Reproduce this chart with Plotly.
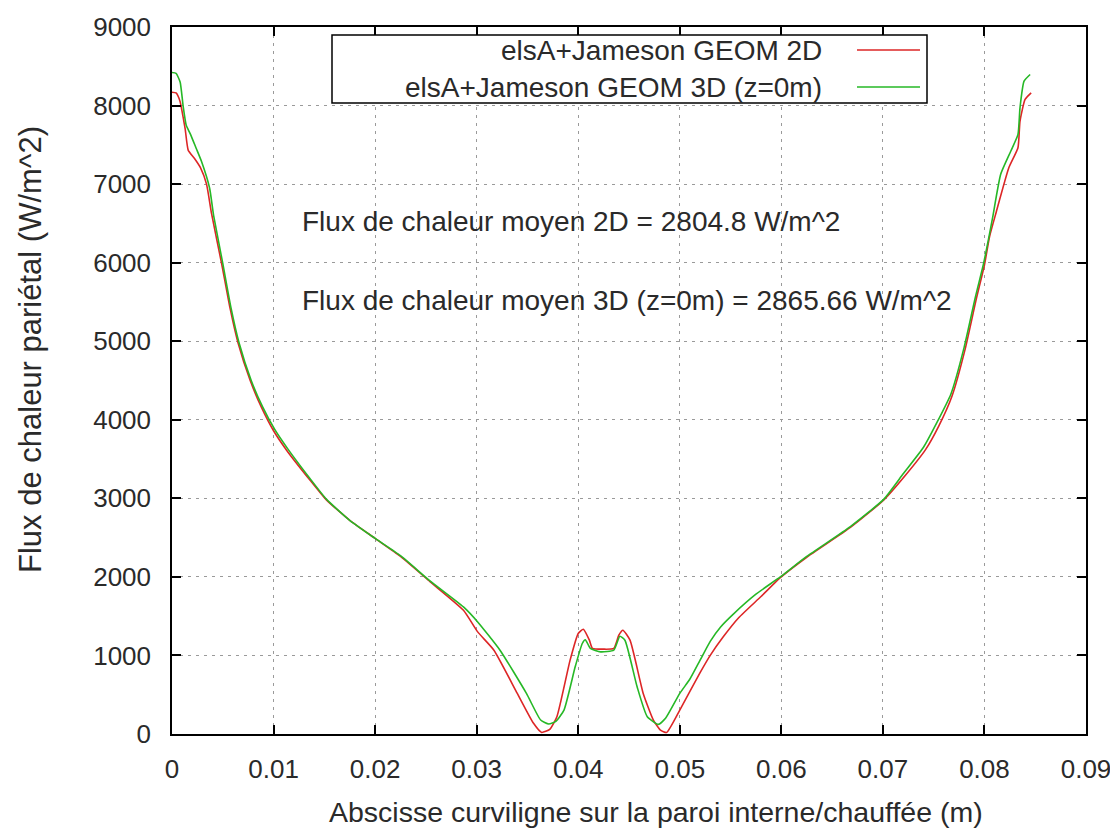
import plotly.graph_objects as go

# ---- data ----
x_2d = [0.0000, 0.0004, 0.0008, 0.0011, 0.0013, 0.0016, 0.0022, 0.0028, 0.0034, 0.0039,
        0.0049, 0.0057, 0.0065, 0.0077, 0.0088, 0.0100, 0.0113, 0.0136, 0.0152, 0.0175,
        0.0200, 0.0225, 0.0254, 0.0287, 0.0301, 0.0317, 0.0340, 0.0356, 0.0364, 0.0372,
        0.0379, 0.0392, 0.0400, 0.0405, 0.0411, 0.0414, 0.0425, 0.0435, 0.0440, 0.0444,
        0.0451, 0.0464, 0.0474, 0.0481, 0.0487, 0.0500, 0.0520, 0.0530, 0.0543, 0.0558,
        0.0580, 0.0599, 0.0625, 0.0668, 0.0701, 0.0722, 0.0742, 0.0755, 0.0768, 0.0781,
        0.0792, 0.0800, 0.0805, 0.0811, 0.0824, 0.0833, 0.0835, 0.0840, 0.0846]
y_2d = [8170, 8160, 8050, 7850, 7700, 7430, 7330, 7210, 7000, 6620,
        5980, 5430, 4980, 4500, 4160, 3860, 3610, 3230, 2980, 2720,
        2490, 2260, 1940, 1575, 1300, 1067, 517, 136, 20, 60,
        220, 940, 1280, 1334, 1194, 1090, 1080, 1089, 1258, 1321,
        1194, 517, 178, 50, 20, 305, 780, 1000, 1240, 1480,
        1750, 1990, 2250, 2630, 2980, 3290, 3620, 3920, 4300, 4900,
        5540, 5970, 6330, 6616, 7208, 7463, 7800, 8078, 8161]

x_3d = [0.0000, 0.0004, 0.0008, 0.0011, 0.0014, 0.0018, 0.0024, 0.0029, 0.0037, 0.0041,
        0.0050, 0.0058, 0.0066, 0.0078, 0.0089, 0.0101, 0.0114, 0.0136, 0.0152, 0.0175,
        0.0200, 0.0225, 0.0254, 0.0287, 0.0301, 0.0323, 0.0349, 0.0363, 0.0371, 0.0378,
        0.0386, 0.0397, 0.0404, 0.0407, 0.0412, 0.0422, 0.0435, 0.0441, 0.0446, 0.0458,
        0.0468, 0.0479, 0.0486, 0.0500, 0.0510, 0.0520, 0.0530, 0.0540, 0.0553, 0.0575,
        0.0599, 0.0625, 0.0668, 0.0701, 0.0720, 0.0740, 0.0753, 0.0767, 0.0780, 0.0791,
        0.0799, 0.0804, 0.0808, 0.0816, 0.0826, 0.0833, 0.0835, 0.0839, 0.0845]
y_3d = [8420, 8410, 8300, 7990, 7750, 7640, 7450, 7290, 6950, 6600,
        5990, 5430, 4980, 4500, 4170, 3880, 3630, 3250, 2990, 2720,
        2490, 2270, 1950, 1618, 1427, 1067, 517, 178, 127, 160,
        305, 855, 1152, 1200, 1089, 1046, 1067, 1245, 1194, 601,
        220, 123, 200, 517, 700, 940, 1180, 1360, 1530, 1780,
        2000, 2260, 2640, 2990, 3312, 3650, 3960, 4329, 4922, 5557,
        5980, 6300, 6570, 7125, 7421, 7632, 7971, 8310, 8395]

series_names = ["elsA+Jameson GEOM 2D", "elsA+Jameson GEOM 3D (z=0m)"]
series_colors = ["#dd2626", "#26b826"]
x_ticks = [0, 0.01, 0.02, 0.03, 0.04, 0.05, 0.06, 0.07, 0.08, 0.09]
x_ticklabels = ["0", "0.01", "0.02", "0.03", "0.04", "0.05", "0.06", "0.07", "0.08", "0.09"]
y_ticks = [0, 1000, 2000, 3000, 4000, 5000, 6000, 7000, 8000, 9000]
notes = ["Flux de chaleur moyen 2D = 2804.8 W/m^2",
         "Flux de chaleur moyen 3D (z=0m) = 2865.66 W/m^2"]
x_title = "Abscisse curviligne sur la paroi interne/chauffée (m)"
y_title = "Flux de chaleur pariétal (W/m^2)"

FONT = "Liberation Sans, Arial, sans-serif"
TXT = "#2a2a2a"

# page has an 8px body margin; work in page pixels and shift into figure pixels
OFF = 8
W, H = 1118 - OFF, 837 - OFF
L, R, T, B = 172 - OFF, 1086 - OFF, 27 - OFF, 734 - OFF


def px(xp):
    return (xp - OFF - L) / (R - L)


def py(yp):
    return (B - (yp - OFF)) / (B - T)


fig = go.Figure()
for xs, ys, name, col in [(x_2d, y_2d, series_names[0], series_colors[0]),
                          (x_3d, y_3d, series_names[1], series_colors[1])]:
    fig.add_trace(go.Scatter(x=xs, y=ys, mode="lines", name=name, showlegend=False,
                             line=dict(color=col, width=1.6, shape="spline", smoothing=0.5)))

axis_common = dict(showline=True, linecolor="black", linewidth=1.5, mirror="allticks",
                   ticks="inside", ticklen=9, tickwidth=1.5, tickcolor="black",
                   showgrid=True, gridcolor="#9a9a9a", gridwidth=1, griddash="3px,5px",
                   zeroline=False, automargin=False,
                   tickfont=dict(family=FONT, size=26, color=TXT))

fig.update_xaxes(range=[0, 0.09], tickvals=x_ticks, ticktext=x_ticklabels,
                 ticklabelstandoff=11, **axis_common)
fig.update_yaxes(range=[0, 9000], tickvals=y_ticks, ticklabelstandoff=14, **axis_common)

shapes = [
    dict(type="rect", xref="paper", yref="paper", x0=px(332), x1=px(927), y0=py(103), y1=py(35),
         line=dict(color="black", width=1.5), fillcolor="white", layer="above"),
    dict(type="line", xref="paper", yref="paper", x0=px(857), x1=px(920), y0=py(50), y1=py(50),
         line=dict(color=series_colors[0], width=1.6), layer="above"),
    dict(type="line", xref="paper", yref="paper", x0=px(857), x1=px(920), y0=py(87), y1=py(87),
         line=dict(color=series_colors[1], width=1.6), layer="above"),
]

annotations = [
    dict(xref="paper", yref="paper", x=px(824), y=py(50), text=series_names[0], showarrow=False,
         xanchor="right", yanchor="middle", font=dict(family=FONT, size=28, color=TXT)),
    dict(xref="paper", yref="paper", x=px(824), y=py(87), text=series_names[1], showarrow=False,
         xanchor="right", yanchor="middle", font=dict(family=FONT, size=28, color=TXT)),
    dict(xref="paper", yref="paper", x=px(300), y=py(222), text=notes[0], showarrow=False,
         xanchor="left", yanchor="middle", font=dict(family=FONT, size=28, color=TXT)),
    dict(xref="paper", yref="paper", x=px(300), y=py(300), text=notes[1], showarrow=False,
         xanchor="left", yanchor="middle", font=dict(family=FONT, size=28, color=TXT)),
    dict(xref="paper", yref="paper", x=px(656), y=py(812), text=x_title, showarrow=False,
         xanchor="center", yanchor="middle", font=dict(family=FONT, size=28.5, color=TXT)),
    dict(xref="paper", yref="paper", x=px(30), y=py(350), text=y_title, showarrow=False,
         textangle=-90, xanchor="center", yanchor="middle",
         font=dict(family=FONT, size=31, color=TXT)),
]

fig.update_layout(width=W, height=H, margin=dict(l=L, r=W - R, t=T, b=H - B),
                  paper_bgcolor="white", plot_bgcolor="white",
                  shapes=shapes, annotations=annotations, showlegend=False)

fig.write_html("out.html")
